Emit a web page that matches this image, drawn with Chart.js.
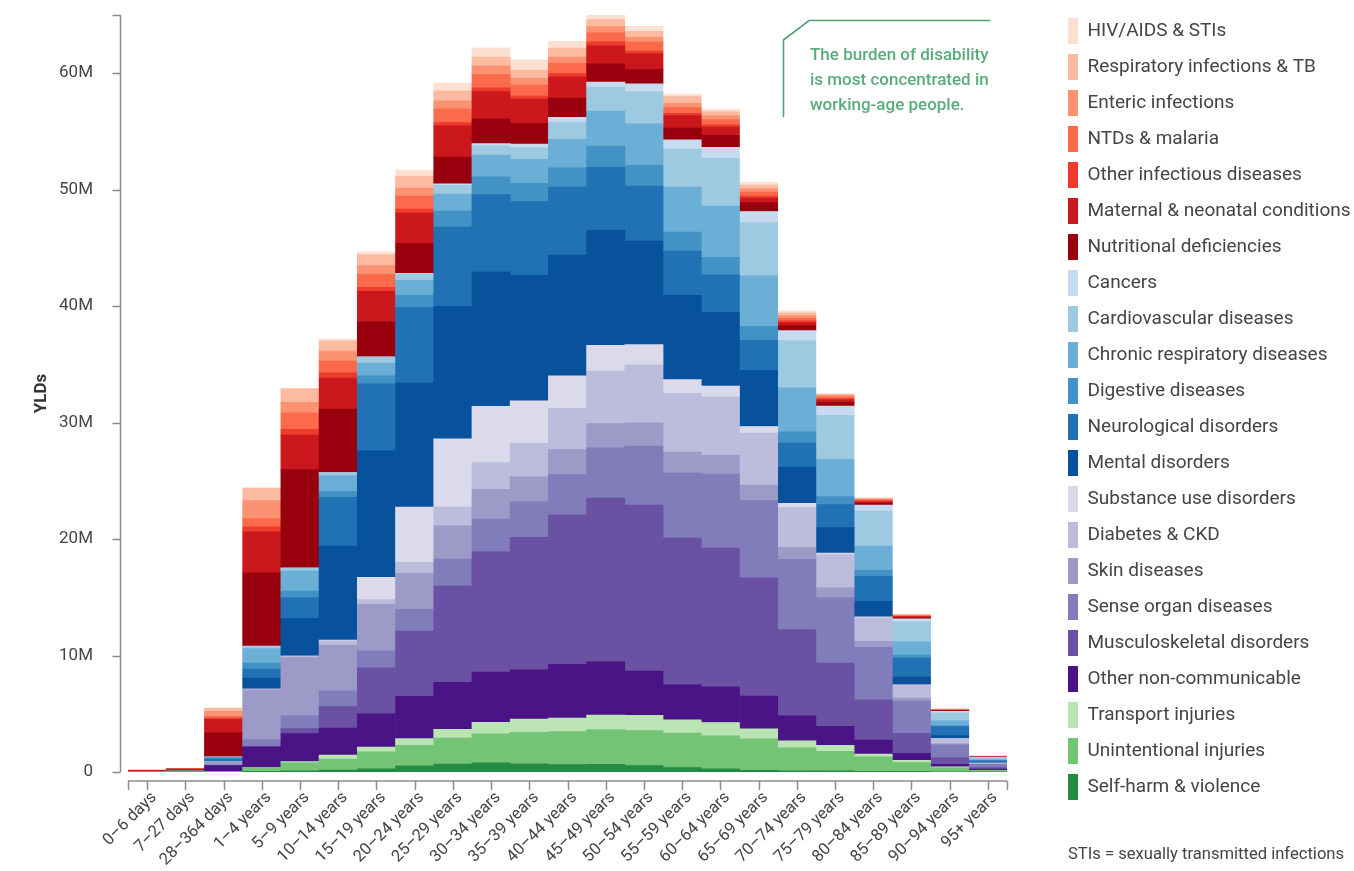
<!DOCTYPE html>
<html>
<head>
<meta charset="utf-8">
<script src="https://cdn.jsdelivr.net/npm/chart.js@4.4.1/dist/chart.umd.min.js"></script>
<style>
html,body{margin:0;padding:0;background:#fff;}
#wrap{position:relative;width:1354px;height:871px;overflow:hidden;}
#c{position:absolute;left:0;top:0;}
#callout{position:absolute;left:810px;top:42px;font-family:Roboto,'Noto Sans',sans-serif;font-size:17px;line-height:25px;color:#5aac7c;font-weight:500;white-space:nowrap;}
#foot{position:absolute;left:1068px;top:842px;font-family:Roboto,'Noto Sans',sans-serif;font-size:16.6px;line-height:24px;color:#444;white-space:nowrap;}
</style>
</head>
<body>
<div id="wrap">
<canvas id="c" width="1354" height="871"></canvas>
<div id="callout">The burden of disability<br>is most concentrated in<br>working-age people.</div>
<div id="foot">STIs = sexually transmitted infections<br>NTDs = neglected tropical diseases</div>
</div>
<script>
// Categories (age groups)
const categories = ["0–6 days","7–27 days","28–364 days","1–4 years","5–9 years","10–14 years","15–19 years","20–24 years","25–29 years","30–34 years","35–39 years","40–44 years","45–49 years","50–54 years","55–59 years","60–64 years","65–69 years","70–74 years","75–79 years","80–84 years","85–89 years","90–94 years","95+ years"];

// Y axis ticks (millions)
const yTicks = [0, 10, 20, 30, 40, 50, 60];
const yMax = 65;

// Series values, millions of YLDs (bottom of stack first)
const selfHarm     = [0,0,0,0.05,0.1,0.17,0.27,0.54,0.67,0.79,0.71,0.63,0.65,0.55,0.38,0.27,0.15,0.09,0.1,0.05,0.05,0.02,0.01];
const unintentional= [0.005,0.01,0.05,0.3,0.69,0.95,1.46,1.74,2.25,2.49,2.69,2.83,3.0,3.0,2.96,2.84,2.69,1.98,1.67,1.26,0.75,0.34,0.12];
const transport    = [0,0,0,0.03,0.1,0.34,0.41,0.58,0.75,0.99,1.15,1.18,1.23,1.31,1.14,1.14,0.87,0.6,0.52,0.23,0.2,0.09,0.02];
const otherNCD     = [0.01,0.02,0.5,1.78,2.41,2.32,2.86,3.64,4.03,4.31,4.23,4.61,4.61,3.81,3.03,3.07,2.8,2.15,1.64,1.21,0.6,0.2,0.1];
const musculo      = [0,0,0,0,0.43,1.84,3.95,5.59,8.26,10.32,11.38,12.81,14.04,14.25,12.58,11.9,10.16,7.41,5.43,3.45,1.72,0.57,0.12];
const senseOrgan   = [0,0,0.05,0.6,1.12,1.36,1.46,1.87,2.33,2.81,3.04,3.51,4.31,5.07,5.57,6.37,6.63,6.03,5.6,4.51,2.76,1.12,0.29];
const skin         = [0,0.02,0.25,4.3,4.97,3.92,3.98,3.1,2.85,2.57,2.17,2.11,2.07,1.99,1.82,1.63,1.33,1.03,0.86,0.52,0.26,0.11,0.03];
const diabetesCKD  = [0,0,0.02,0.05,0.14,0.37,0.41,0.95,1.62,2.29,2.85,3.55,4.52,4.99,5.04,5.0,4.47,3.42,2.84,2.01,1.12,0.4,0.08];
const substance    = [0,0,0,0,0,0.05,1.91,4.73,5.85,4.82,3.64,2.79,2.2,1.73,1.17,0.91,0.57,0.37,0.14,0.09,0.03,0.01,0];
const mental       = [0,0,0.05,0.95,3.24,8.07,10.87,10.66,11.38,11.54,10.79,10.36,9.89,8.88,7.24,6.33,4.81,3.1,2.18,1.32,0.66,0.26,0.04];
const neuro        = [0.03,0.03,0.2,0.78,1.78,4.19,5.76,6.47,6.8,6.64,6.32,5.84,5.41,4.74,3.79,3.26,2.58,2.07,1.98,2.15,1.64,0.78,0.15];
const digestive    = [0,0,0.1,0.52,0.55,0.51,0.68,1.06,1.38,1.54,1.58,1.65,1.82,1.78,1.63,1.48,1.21,0.95,0.69,0.52,0.26,0.09,0.02];
const chronicResp  = [0,0,0.05,1.23,1.75,1.36,1.09,1.29,1.46,1.86,2.06,2.45,3.0,3.55,3.87,4.4,4.36,3.79,3.19,2.07,1.12,0.43,0.08];
const cardio       = [0,0,0.02,0.17,0.2,0.24,0.51,0.54,0.75,0.79,0.99,1.48,2.07,2.75,3.26,4.09,4.55,4.05,3.79,3.01,1.72,0.66,0.2];
const cancers      = [0,0,0.01,0.05,0.05,0.03,0.03,0.05,0.12,0.2,0.32,0.42,0.42,0.68,0.8,0.95,0.95,0.86,0.78,0.52,0.26,0.14,0.03];
const nutritional  = [0,0.01,2.07,6.29,8.44,5.45,3.03,2.59,2.29,2.13,1.78,1.65,1.56,1.23,1.02,1.02,0.76,0.43,0.34,0.17,0.12,0.05,0.02];
const maternal     = [0.1,0.17,1.15,3.53,2.96,2.66,2.59,2.59,2.69,2.33,2.09,1.82,1.56,1.35,1.06,0.72,0.38,0.26,0.2,0.11,0.05,0.02,0.01];
const otherInf     = [0.005,0.01,0.1,0.43,0.49,0.44,0.34,0.34,0.28,0.32,0.24,0.3,0.34,0.25,0.19,0.19,0.19,0.14,0.11,0.09,0.05,0.03,0.01];
const ntdsMalaria  = [0,0,0.15,0.69,1.41,1.02,1.12,1.12,1.19,1.15,0.95,0.85,0.76,0.76,0.49,0.45,0.34,0.23,0.14,0.09,0.05,0.02,0.01];
const enteric      = [0.005,0.02,0.45,1.55,0.92,0.85,0.75,0.68,0.71,0.75,0.59,0.55,0.55,0.42,0.38,0.34,0.3,0.23,0.14,0.06,0.05,0.03,0.01];
const respInf      = [0.005,0.02,0.25,1.06,1.15,0.89,0.92,1.02,0.83,0.75,0.71,0.76,0.59,0.51,0.57,0.34,0.3,0.23,0.09,0.06,0.04,0.03,0.02];
const hivSTI       = [0,0,0.05,0.06,0.05,0.14,0.27,0.54,0.67,0.8,0.87,0.59,0.59,0.42,0.23,0.23,0.23,0.17,0.06,0.05,0.03,0.02,0.01];

const seriesNames = ["Self-harm & violence","Unintentional injuries","Transport injuries","Other non-communicable","Musculoskeletal disorders","Sense organ diseases","Skin diseases","Diabetes & CKD","Substance use disorders","Mental disorders","Neurological disorders","Digestive diseases","Chronic respiratory diseases","Cardiovascular diseases","Cancers","Nutritional deficiencies","Maternal & neonatal conditions","Other infectious diseases","NTDs & malaria","Enteric infections","Respiratory infections & TB","HIV/AIDS & STIs"];
const seriesValues = [selfHarm,unintentional,transport,otherNCD,musculo,senseOrgan,skin,diabetesCKD,substance,mental,neuro,digestive,chronicResp,cardio,cancers,nutritional,maternal,otherInf,ntdsMalaria,enteric,respInf,hivSTI];
const seriesColors = ["#238b45","#74c476","#bae4b3","#4a1486","#6a51a3","#807dba","#9e9ac8","#bcbddc","#dadaeb","#08519c","#2171b5","#4292c6","#6baed6","#9ecae1","#c6dbef","#99000d","#cb181d","#ef3b2c","#fb6a4a","#fc9272","#fcbba1","#fee0d2"];

const FONT = "Roboto,'Noto Sans',sans-serif";
const AXIS_COLOR = "#8c8c8c";
const TEXT_COLOR = "#444";
const PLOT_RIGHT = 1007;
const LEGEND_BOX_X = 1068;

const datasets = seriesNames.map((n, i) => ({
  label: n,
  data: seriesValues[i],
  backgroundColor: seriesColors[i],
  borderWidth: 0,
  barPercentage: 1.0,
  categoryPercentage: 1.0
}));

const customAxes = {
  id: 'customAxes',
  afterLayout(chart) {
    const lg = chart.legend;
    if (lg) {
      const pad = chart.options.plugins.legend.labels.padding;
      const dx = LEGEND_BOX_X - pad - lg.left;
      lg.left += dx; lg.right += dx;
      const dy = 8 - lg.top;
      lg.top += dy; lg.bottom += dy;
    }
  },
  afterDraw(chart) {
    const ctx = chart.ctx;
    const xs = chart.scales.x, ys = chart.scales.y;
    const area = chart.chartArea;
    ctx.save();
    ctx.strokeStyle = AXIS_COLOR;
    ctx.lineWidth = 1.5;
    // y axis
    const yx = area.left - 7.5;
    ctx.beginPath();
    ctx.moveTo(yx, ys.getPixelForValue(yMax));
    ctx.lineTo(yx, ys.getPixelForValue(0));
    [...yTicks, yMax].forEach(v => {
      const py = Math.round(ys.getPixelForValue(v)) + 0.5;
      ctx.moveTo(yx - 8, py); ctx.lineTo(yx, py);
    });
    ctx.stroke();
    // x axis
    const axY = ys.getPixelForValue(0) + 9;
    ctx.beginPath();
    ctx.moveTo(area.left, axY); ctx.lineTo(area.right, axY);
    const xsPix = [area.left, area.right];
    categories.forEach((c, i) => xsPix.push(xs.getPixelForValue(i)));
    xsPix.forEach(px => { const p = Math.round(px) + 0.5; ctx.moveTo(p, axY); ctx.lineTo(p, axY + 9); });
    ctx.stroke();
    // callout line
    ctx.strokeStyle = "#4ea374";
    ctx.lineWidth = 1.6;
    ctx.beginPath();
    ctx.moveTo(783.5, 117); ctx.lineTo(783.5, 40); ctx.lineTo(809, 20.5); ctx.lineTo(990, 20.5);
    ctx.stroke();
    ctx.restore();
  }
};

const chart = new Chart(document.getElementById('c'), {
  type: 'bar',
  data: { labels: categories, datasets },
  options: {
    responsive: false,
    animation: false,
    layout: { padding: { top: 15, right: 40, bottom: 0, left: 0 } },
    plugins: {
      legend: {
        display: true,
        position: 'right',
        align: 'start',
        reverse: true,
        labels: {
          boxWidth: 10,
          boxHeight: 26,
          padding: 10,
          color: TEXT_COLOR,
          font: { family: FONT, size: 19 }
        }
      },
      tooltip: { enabled: false }
    },
    scales: {
      x: {
        stacked: true,
        grid: { display: false },
        border: { display: false },
        afterFit(axis) { axis.height = 99; },
        ticks: {
          autoSkip: false,
          maxRotation: 45,
          minRotation: 45,
          padding: 8,
          labelOffset: 7,
          color: TEXT_COLOR,
          font: { family: FONT, size: 16.5 }
        }
      },
      y: {
        stacked: true,
        min: 0,
        max: yMax,
        grid: { display: false, drawTicks: false },
        border: { display: false },
        afterFit(axis) { axis.width = 128; axis.paddingTop = 0; axis.paddingBottom = 0; },
        title: {
          display: true,
          text: 'YLDs',
          color: '#333',
          font: { family: FONT, size: 17, weight: 'bold' },
          padding: { top: 32, bottom: 0 }
        },
        ticks: {
          stepSize: 10,
          includeBounds: false,
          padding: 35,
          color: TEXT_COLOR,
          font: { family: FONT, size: 17 },
          callback: v => v === 0 ? '0' : v + 'M'
        }
      }
    }
  },
  plugins: [customAxes]
});

// size the right padding so the plot ends where the reference does
const lw = chart.legend.width;
chart.options.layout.padding.right = 1354 - PLOT_RIGHT - lw;
chart.update();
</script>
</body>
</html>
